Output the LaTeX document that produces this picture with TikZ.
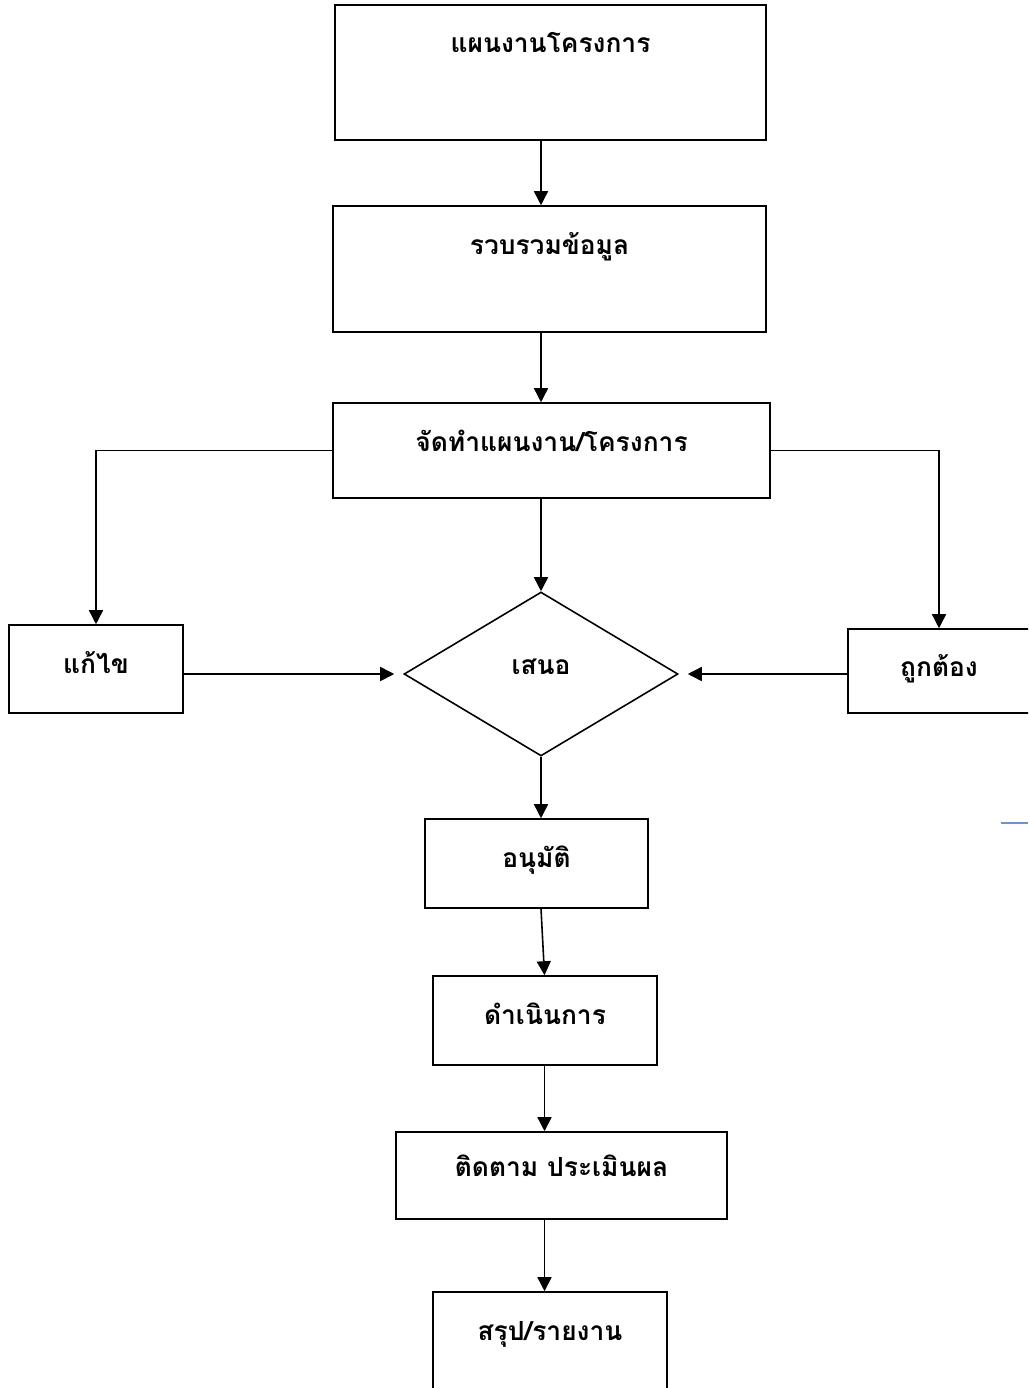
\documentclass[tikz,border=0pt]{standalone}
\usepackage{fontspec}
\newfontfamily\thaifont[Script=Thai]{Loma}
\usetikzlibrary{arrows.meta,shapes.geometric}
\definecolor{strayblue}{RGB}{112,146,204}

\tikzset{
  box/.style={draw, line width=0.9pt, inner sep=0pt, font=\thaifont\bfseries\fontsize{15}{18}\selectfont, text height=0.96cm},
  choice/.style={draw, diamond, line width=0.9pt, inner sep=0pt, font=\thaifont\bfseries\fontsize{15}{18}\selectfont},
  arr/.style={-{Triangle[width=0.28cm,length=0.28cm]}, line width=0.9pt},
}

\begin{document}
\begin{tikzpicture}[x=0.02cm,y=-0.02cm]
  \clip (0,0) rectangle (1028,1388);

  % main column
  \node[box, minimum width=8.62cm, text depth=1.74cm] (plan) at (550.5,72.5) {แผนงานโครงการ};
  \node[box, minimum width=8.66cm, text depth=1.56cm] (collect) at (549.5,269) {รวบรวมข้อมูล};
  \node[box, minimum width=8.74cm, text depth=0.94cm] (make) at (551.5,450.5) {จัดทำแผนงาน/โครงการ};
  \node[choice, minimum width=5.48cm, minimum height=3.28cm, text depth=0.28cm] (propose) at (541,674) {เสนอ};
  \node[box, minimum width=4.46cm, text depth=0.82cm] (approve) at (536.5,863.5) {อนุมัติ};
  \node[box, minimum width=4.48cm, text depth=0.82cm] (run) at (545,1020.5) {ดำเนินการ};
  \node[box, minimum width=6.62cm, text height=0.88cm, text depth=0.86cm] (follow) at (561.5,1175.5) {ติดตาม ประเมินผล};
  \node[box, minimum width=4.68cm, text depth=1.6cm] (report) at (550,1356) {สรุป/รายงาน};

  % side boxes
  \node[box, minimum width=3.48cm, text depth=0.8cm] (fix) at (96,669) {แก้ไข};
  \node[box, minimum width=3.64cm, text height=0.94cm, text depth=0.74cm] (ok) at (939,671) {ถูกต้อง};

  \coordinate (axis) at (541,0);

  % arrows down the middle
  \draw[arr] (plan.south -| axis) -- (collect.north -| axis);
  \draw[arr] (collect.south -| axis) -- (make.north -| axis);
  \draw[arr] (make.south -| axis) -- (propose.north);
  \draw[arr] (propose.south) -- (approve.north -| axis);
  \draw[arr] (approve.south -| axis) -- ([xshift=2]run.north -| axis);
  \draw[arr] ([xshift=2]run.south -| axis) -- ([xshift=2]follow.north -| axis);
  \draw[arr] ([xshift=2]follow.south -| axis) -- ([xshift=2]report.north -| axis);

  % branches
  \draw[arr] (make.west) -| (fix.north);
  \draw[arr] (make.east) -| (ok.north);
  \draw[arr, shorten >=0.18cm] (fix.east |- propose) -- (propose.west);
  \draw[arr, shorten >=0.18cm] (ok.west |- propose) -- (propose.east);

  \draw[strayblue, line width=0.8pt] (1001,823) -- (1028,823);
\end{tikzpicture}
\end{document}
